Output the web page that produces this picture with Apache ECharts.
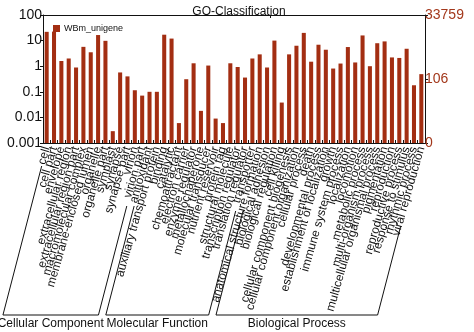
<!DOCTYPE html>
<html>
<head>
<meta charset="utf-8">
<script src="https://cdn.jsdelivr.net/npm/echarts@6/dist/echarts.min.js"></script>
<style>
  html, body { margin: 0; padding: 0; background: #fff; }
  #chart { width: 474px; height: 332px; }
</style>
</head>
<body>
<div id="chart"></div>
<script>
// GO term categories, grouped by ontology
const ccTerms = ['cell', 'cell part', 'envelope', 'extracellular region', 'extracellular region part',
  'macromolecular complex', 'membrane-enclosed lumen', 'organelle', 'organelle part', 'symplast',
  'synapse', 'synapse part', 'virion', 'virion part'];
const mfTerms = ['antioxidant', 'auxiliary transport protein', 'binding', 'catalytic', 'chemoattractant',
  'electron carrier', 'enzyme regulator', 'metallochaperone', 'molecular transducer', 'nutrient reservoir',
  'protein tag', 'structural molecule', 'transcription regulator', 'translation regulator', 'transporter'];
const bpTerms = ['anatomical structure formation', 'biological adhesion', 'biological regulation', 'cell killing',
  'cellular component biogenesis', 'cellular component organization', 'cellular process', 'death',
  'developmental process', 'establishment of localization', 'growth', 'immune system process', 'localization',
  'locomotion', 'metabolic process', 'multi-organism process', 'multicellular organismal process',
  'pigmentation', 'reproduction', 'reproductive process', 'response to stimulus', 'rhythmic process',
  'viral reproduction'];

// Percent of genes per term
const ccPercent = [22, 22.5, 1.6, 2.0, 0.89, 5.7, 3.5, 16.5, 9.8, 0.0029, 0.57, 0.40, 0.115, 0.071];
const mfPercent = [0.1, 0.1, 17, 12, 0.006, 0.31, 1.3, 0.018, 1.06, 0.009, 0.006, 1.3, 0.93, 0.36, 2.0];
const bpPercent = [2.9, 0.89, 10, 0.038, 2.9, 6.3, 20, 1.5, 6.9, 4.4, 0.81, 1.27, 5.6, 1.4, 15.9, 1.0,
  7.9, 9.3, 2.2, 2.1, 4.8, 0.18, 0.49];

const groupNames = ['Cellular Component', 'Molecular Function', 'Biological Process'];
const percentTicks = ['0.001', '0.01', '0.1', '1', '10', '100'];
const geneCountTicks = ['0', '106', '33759'];
const seriesName = 'WBm_unigene';

const categories = ccTerms.concat(mfTerms, bpTerms);
const values = ccPercent.concat(mfPercent, bpPercent);
const groupSizes = [ccTerms.length, mfTerms.length, bpTerms.length];

const FONT = 'Liberation Sans, Arial, sans-serif';
const BAR = '#a32e12';
const RED_TEXT = '#a3381c';
const GRID = { left: 43, right: 49, top: 15, bottom: 189 };

const chart = echarts.init(document.getElementById('chart'), null, { renderer: 'canvas' });

const option = {
  animation: false,
  backgroundColor: '#fff',
  textStyle: { fontFamily: FONT },
  title: {
    text: 'GO-Classification',
    left: 234, top: 1, textAlign: 'center',
    textStyle: { fontSize: 12, fontWeight: 'normal', color: '#111', fontFamily: FONT }
  },
  legend: {
    data: [seriesName],
    left: 48, top: 19,
    itemWidth: 7, itemHeight: 7, itemGap: 4,
    icon: 'rect',
    textStyle: { fontSize: 9, color: '#111', fontFamily: FONT, padding: [0, 0, 0, -1] }
  },
  grid: Object.assign({ containLabel: false, outerBoundsMode: 'none' }, GRID),
  xAxis: [{
    type: 'category',
    data: categories,
    position: 'bottom',
    axisLine: { lineStyle: { color: '#111', width: 1 } },
    axisTick: { show: true, inside: true, length: 3, lineStyle: { color: '#111' } },
    axisLabel: {
      interval: 0, rotate: 74, margin: 4,
      fontSize: 12, color: '#111', fontFamily: FONT, hideOverlap: false
    }
  }, {
    type: 'category',
    data: categories,
    position: 'top',
    axisLine: { lineStyle: { color: '#111', width: 1 } },
    axisTick: { show: true, inside: true, length: 3, lineStyle: { color: '#111' } },
    axisLabel: { show: false }
  }],
  yAxis: [{
    type: 'log',
    logBase: 10,
    min: 0.001, max: 100,
    startValue: 0.001,
    name: 'Percent of genes',
    nameLocation: 'middle', nameGap: 31, nameRotate: 90,
    nameTextStyle: { fontSize: 12, color: '#111', fontFamily: FONT },
    axisLine: { show: true, lineStyle: { color: '#111' } },
    axisTick: { show: true, length: 3, lineStyle: { color: '#111' } },
    splitLine: { show: false },
    axisLabel: {
      fontSize: 14, color: '#111', margin: 1, align: 'right', fontFamily: FONT,
      formatter: v => percentTicks[Math.round(Math.log10(v)) + 3]
    }
  }, {
    type: 'value',
    position: 'right',
    min: 0, max: 2, interval: 1,
    name: 'Number of genes',
    nameLocation: 'middle', nameGap: 36, nameRotate: 90,
    nameTextStyle: { fontSize: 12, color: '#111', fontFamily: FONT },
    axisLine: { show: true, lineStyle: { color: '#111' } },
    axisTick: { show: true, length: 3, lineStyle: { color: '#111' } },
    splitLine: { show: false },
    axisLabel: {
      fontSize: 14, color: RED_TEXT, margin: 0, align: 'left', fontFamily: FONT,
      formatter: v => geneCountTicks[Math.round(v)]
    }
  }],
  series: [{
    name: seriesName,
    type: 'bar',
    data: values,
    barWidth: '55%',
    itemStyle: { color: BAR },
    xAxisIndex: 0, yAxisIndex: 0
  }]
};

chart.setOption(option);

// Group brackets under the category labels, laid out from the axis positions
function drawBrackets() {
  const axisY = chart.getHeight() - GRID.bottom;
  const slant = 0.26;           // horizontal run per pixel of drop, parallel to the labels
  const bottomY = 315;
  const sideStarts = [[166, 206], [206, 211], [211, 226]];
  const elements = [];
  let start = 0;
  groupSizes.forEach((n, gi) => {
    const first = chart.convertToPixel({ xAxisIndex: 0 }, start);
    const last = chart.convertToPixel({ xAxisIndex: 0 }, start + n - 1);
    const lx = first + 1, rx = last + 1;
    const at = (bx, y) => bx - (y - axisY) * slant;
    const [ls, rs] = sideStarts[gi];
    const lb = at(lx, bottomY), rb = at(rx, bottomY);
    elements.push({
      type: 'polyline',
      shape: { points: [[at(lx, ls), ls], [lb, bottomY], [rb, bottomY], [at(rx, rs), rs]] },
      style: { stroke: '#111', lineWidth: 1, fill: null }
    });
    elements.push({
      type: 'text',
      x: (lb + rb) / 2, y: bottomY + 9,
      style: {
        text: groupNames[gi], fontSize: 12, fontFamily: FONT, fill: '#111',
        align: 'center', verticalAlign: 'middle'
      }
    });
    start += n;
  });
  chart.setOption({ graphic: { elements } });
}
drawBrackets();
</script>
</body>
</html>
